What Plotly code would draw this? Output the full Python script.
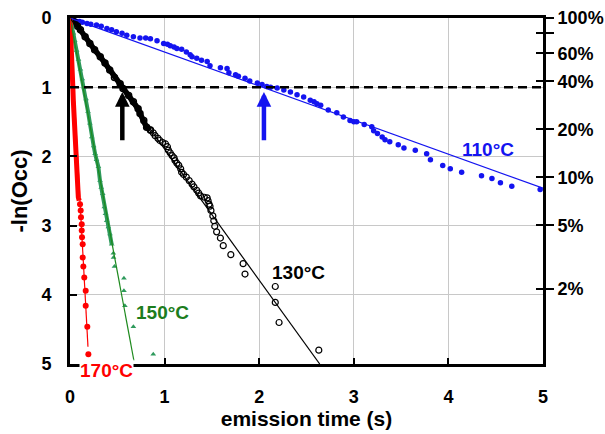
import numpy as np
import plotly.graph_objects as go

# ---------------- data ----------------
# 110 °C  (blue dots)
t110 = [0.00, 0.02, 0.04, 0.07, 0.10, 0.13, 0.18, 0.22, 0.28, 0.33,
        0.39, 0.44, 0.49, 0.55, 0.60, 0.67, 0.74, 0.80, 0.85, 0.92,
        0.99, 1.03, 1.06, 1.10, 1.13, 1.18, 1.23, 1.27, 1.29, 1.34,
        1.39, 1.45, 1.48, 1.59, 1.66, 1.68, 1.75, 1.78, 1.85, 1.90,
        1.98, 2.03, 2.08, 2.12, 2.19, 2.26, 2.33, 2.40, 2.47, 2.54,
        2.58, 2.61, 2.65, 2.73, 2.82, 2.89, 2.96, 3.00, 3.03, 3.11,
        3.19, 3.21, 3.25, 3.30, 3.33, 3.38, 3.47, 3.53, 3.65, 3.77,
        3.81, 3.94, 4.02, 4.14, 4.35, 4.46, 4.55, 4.67, 4.97]
occ110 = [0.00, 0.01, 0.02, 0.05, 0.05, 0.06, 0.08, 0.09, 0.10, 0.12,
          0.15, 0.17, 0.20, 0.22, 0.25, 0.27, 0.29, 0.29, 0.30, 0.33,
          0.37, 0.38, 0.40, 0.42, 0.44, 0.45, 0.49, 0.53, 0.56, 0.58,
          0.61, 0.63, 0.69, 0.72, 0.73, 0.79, 0.82, 0.84, 0.87, 0.91,
          0.94, 0.96, 0.99, 1.00, 1.01, 1.04, 1.07, 1.11, 1.14, 1.19,
          1.21, 1.24, 1.26, 1.33, 1.37, 1.43, 1.48, 1.50, 1.50, 1.54,
          1.57, 1.63, 1.67, 1.72, 1.76, 1.79, 1.83, 1.88, 1.91, 1.96,
          2.05, 2.13, 2.18, 2.23, 2.28, 2.32, 2.38, 2.43, 2.48]

# 130 °C (black open circles) - dense early part and separate circles
t130_dense = [0.00, 0.02, 0.05, 0.08, 0.11, 0.16, 0.21, 0.26, 0.32, 0.37,
              0.42, 0.47, 0.53, 0.56, 0.62, 0.67, 0.72, 0.74, 0.78, 0.81, 0.85]
occ130_dense = [0.00, 0.01, 0.06, 0.12, 0.17, 0.27, 0.37, 0.46, 0.56, 0.65,
                0.75, 0.86, 0.95, 1.02, 1.12, 1.21, 1.31, 1.38, 1.48, 1.58, 1.62]
t130 = [0.85, 0.88, 0.90, 0.93, 0.95, 0.98, 1.01, 1.03, 1.04, 1.06,
        1.08, 1.10, 1.11, 1.13, 1.15, 1.17, 1.18, 1.20, 1.23, 1.26,
        1.29, 1.31, 1.34, 1.36, 1.38, 1.42, 1.45, 1.46, 1.47, 1.48,
        1.49, 1.51, 1.52, 1.53, 1.55, 1.59, 1.62, 1.70, 1.83, 1.85,
        2.17, 2.17, 2.21, 2.63]
occ130 = [1.62, 1.66, 1.70, 1.74, 1.77, 1.80, 1.82, 1.86, 1.91, 1.95,
          1.99, 2.02, 2.06, 2.10, 2.13, 2.18, 2.23, 2.26, 2.30, 2.35,
          2.40, 2.44, 2.49, 2.53, 2.57, 2.59, 2.60, 2.64, 2.69, 2.72,
          2.78, 2.86, 2.93, 3.01, 3.09, 3.18, 3.29, 3.42, 3.55, 3.70,
          3.88, 4.11, 4.40, 4.80]

# 150 °C (green triangles)
t150_dense = [0.00, 0.01, 0.02, 0.035, 0.05, 0.07, 0.09, 0.11, 0.13, 0.15,
              0.17, 0.19, 0.21, 0.23, 0.25, 0.265, 0.28, 0.30, 0.317, 0.33,
              0.346, 0.363, 0.375, 0.388, 0.405, 0.423, 0.441]
occ150_dense = [0.00, 0.05, 0.12, 0.22, 0.33, 0.47, 0.60, 0.74, 0.88, 1.00,
                1.17, 1.35, 1.52, 1.72, 1.85, 1.96, 2.05, 2.15, 2.35, 2.45,
                2.54, 2.73, 2.83, 2.93, 3.02, 3.12, 3.27]
t150 = [0.458, 0.46, 0.47, 0.57, 0.57, 0.58, 0.67, 0.88]
occ150 = [3.40, 3.46, 3.59, 3.76, 3.94, 4.16, 4.46, 4.86]

# 170 °C (red dots)
t170_dense = [0.00, 0.005, 0.01, 0.015, 0.02, 0.025, 0.03, 0.035, 0.045,
              0.055, 0.065, 0.075, 0.088, 0.097]
occ170_dense = [0.00, 0.12, 0.25, 0.40, 0.60, 0.80, 1.00, 1.19, 1.50,
                1.80, 2.05, 2.30, 2.59, 2.64]
t170 = [0.106, 0.113, 0.116, 0.124, 0.124, 0.127, 0.134, 0.134, 0.141,
        0.151, 0.166, 0.166, 0.183, 0.194]
occ170 = [2.69, 2.78, 2.88, 2.98, 3.07, 3.17, 3.27, 3.46, 3.59,
          3.75, 3.94, 4.16, 4.46, 4.86]

# linear fits: -ln(Occ) = k * t, drawn up to t_end
fit_slopes = {"110": 0.492, "130": 1.894, "150": 7.33, "170": 25.0}
fit_tend = {"110": 5.0, "130": 2.64, "150": 0.675, "170": 0.19}

# 1/e level and the times where it is crossed (arrows)
level_1e = 1.0
arrow_t130 = 0.553
arrow_t110 = 2.05

# right axis: occupancy percentages
occ_pct = [100, 80, 60, 40, 20, 10, 5, 2]
occ_pct_labels = ["100%", "", "60%", "40%", "20%", "10%", "5%", "2%"]

# ---------------- colours / fonts ----------------
BLUE = "#1414f0"
BLACK = "#000000"
GREEN_M = "#2e9a5c"
GREEN_L = "#1e8a1e"
GREEN_T = "#1d7d1d"
RED = "#ff0000"
FONT = "Liberation Sans"

fig = go.Figure()

# 110
fig.add_trace(go.Scatter(x=t110, y=occ110, mode="markers",
                         marker=dict(color=BLUE, size=5.5, symbol="circle")))
# 130
fig.add_trace(go.Scatter(x=t130_dense, y=occ130_dense, mode="lines+markers",
                         line=dict(color=BLACK, width=5.5),
                         marker=dict(color=BLACK, size=6, symbol="circle-open",
                                     line=dict(width=1.5, color=BLACK))))
fig.add_trace(go.Scatter(x=t130, y=occ130, mode="markers",
                         marker=dict(color=BLACK, size=6, symbol="circle-open",
                                     line=dict(width=1.2, color=BLACK))))
# 150
fig.add_trace(go.Scatter(x=t150_dense, y=occ150_dense, mode="lines+markers",
                         line=dict(color=GREEN_M, width=4),
                         marker=dict(color=GREEN_M, size=5, symbol="triangle-up")))
fig.add_trace(go.Scatter(x=t150, y=occ150, mode="markers",
                         marker=dict(color=GREEN_M, size=5, symbol="triangle-up")))
# 170
fig.add_trace(go.Scatter(x=t170_dense, y=occ170_dense, mode="lines",
                         line=dict(color=RED, width=5)))
fig.add_trace(go.Scatter(x=t170, y=occ170, mode="markers",
                         marker=dict(color=RED, size=6, symbol="circle")))

# fits
fit_colors = {"110": BLUE, "130": BLACK, "150": GREEN_L, "170": RED}
for key, k in fit_slopes.items():
    te = fit_tend[key]
    fig.add_trace(go.Scatter(x=[0, te], y=[0, k * te], mode="lines",
                             line=dict(color=fit_colors[key], width=1.2)))

pct_vals = [-np.log(p / 100.0) for p in occ_pct]
# invisible traces so that the right-hand occupancy axes are drawn
for ya in ["y2", "y3"]:
    fig.add_trace(go.Scatter(x=[5] * len(pct_vals), y=pct_vals, yaxis=ya,
                             mode="markers", marker=dict(opacity=0),
                             hoverinfo="skip"))

# 1/e dashed level
fig.add_shape(type="line", xref="x", yref="y", x0=0, x1=5, y0=level_1e, y1=level_1e,
              line=dict(color="black", width=2.5, dash="9px,5px"))

annos = []
for tx, col in [(arrow_t130, BLACK), (arrow_t110, BLUE)]:
    annos.append(dict(x=tx, y=level_1e + 0.07, ax=tx, ay=level_1e + 0.79,
                      xref="x", yref="y", axref="x", ayref="y", text="",
                      showarrow=True, arrowhead=2, arrowsize=0.65,
                      arrowwidth=4.5, arrowcolor=col))

lab_font = dict(family=FONT, size=19, weight="bold")
annos += [
    dict(x=4.42, y=1.90, text="110°C", showarrow=False, xref="x", yref="y",
         font=dict(lab_font, color=BLUE)),
    dict(x=2.42, y=3.68, text="130°C", showarrow=False, xref="x", yref="y",
         font=dict(lab_font, color=BLACK)),
    dict(x=0.98, y=4.26, text="150°C", showarrow=False, xref="x", yref="y",
         font=dict(lab_font, color=GREEN_T)),
    dict(x=0.39, y=-0.02, text="170°C", showarrow=False, xref="x", yref="paper",
         xanchor="center", yanchor="middle",
         font=dict(lab_font, color=RED), bgcolor="white", borderpad=0),
]

tick_font = dict(family=FONT, size=18, color="black", weight="bold")

fig.update_layout(
    width=605, height=434,
    margin=dict(l=70, r=62, t=18, b=70, autoexpand=False),
    paper_bgcolor="white", plot_bgcolor="white",
    showlegend=False,
    annotations=annos,
    xaxis=dict(range=[0, 5], tickvals=[0, 1, 2, 3, 4, 5], automargin=False,
               ticks="inside", ticklen=6, tickwidth=2, tickcolor="black",
               showline=True, linewidth=3, linecolor="black", mirror=True,
               showgrid=True, gridcolor="#c8c8c8", gridwidth=1, zeroline=False,
               tickfont=tick_font, ticklabelstandoff=14,
               title=dict(text="emission time (s)",
                          font=dict(family=FONT, size=21, color="black", weight="bold"),
                          standoff=2)),
    yaxis=dict(range=[5, 0], tickvals=[0, 1, 2, 3, 4, 5], automargin=False,
               ticks="inside", ticklen=7, tickwidth=2, tickcolor="black",
               showline=True, linewidth=3, linecolor="black",
               showgrid=True, gridcolor="#c8c8c8", gridwidth=1, zeroline=False,
               tickfont=tick_font, ticklabelstandoff=12,
               title=dict(text="-ln(Occ)",
                          font=dict(family=FONT, size=22, color="black", weight="bold"),
                          standoff=8)),
    yaxis2=dict(range=[5, 0], overlaying="y", side="right", anchor="x",
                automargin=False,
                tickvals=pct_vals, ticktext=occ_pct_labels,
                ticks="outside", ticklen=8, tickwidth=2, tickcolor="black",
                showline=True, linewidth=3, linecolor="black",
                showgrid=False, zeroline=False, tickfont=tick_font),
    yaxis3=dict(range=[5, 0], overlaying="y", side="right", anchor="x",
                automargin=False,
                tickvals=pct_vals, ticks="inside", ticklen=7, tickwidth=2,
                tickcolor="black", showticklabels=False, showline=False,
                showgrid=False, zeroline=False),
)

fig.write_html("out.html")
